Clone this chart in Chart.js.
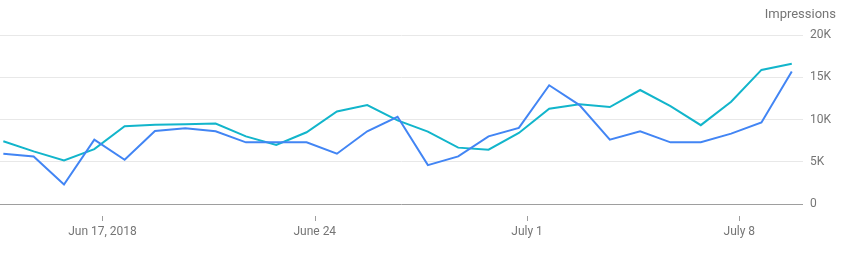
<!DOCTYPE html>
<html>
<head>
<meta charset="utf-8">
<script src="https://cdn.jsdelivr.net/npm/chart.js@4/dist/chart.umd.min.js"></script>
<style>
  html, body { margin: 0; padding: 0; background: #fff; }
  #wrap { width: 853px; height: 265px; position: relative; }
</style>
</head>
<body>
<div id="wrap"><canvas id="c"></canvas></div>
<script>
// Daily dates, Jun 14 – Jul 10, 2018
const categories = ['Jun 14','Jun 15','Jun 16','Jun 17','Jun 18','Jun 19','Jun 20','Jun 21','Jun 22','Jun 23',
  'Jun 24','Jun 25','Jun 26','Jun 27','Jun 28','Jun 29','Jun 30','Jul 1','Jul 2','Jul 3',
  'Jul 4','Jul 5','Jul 6','Jul 7','Jul 8','Jul 9','Jul 10'];
const blueSeries = [5950, 5630, 2300, 7620, 5240, 8650, 8970, 8610, 7300, 7300,
  7300, 5950, 8610, 10320, 4600, 5630, 8000, 9000, 14050, 11700,
  7620, 8610, 7300, 7300, 8330, 9640, 15680];
const cyanSeries = [7420, 6230, 5150, 6500, 9200, 9370, 9440, 9520, 8000, 6980,
  8490, 10950, 11700, 9900, 8570, 6670, 6430, 8410, 11270, 11800,
  11470, 13490, 11590, 9330, 12100, 15870, 16590];
const xTickIndex = [3, 10, 17, 24];
const xTickLabels = ['Jun 17, 2018', 'June 24', 'July 1', 'July 8'];
const yTicks = [0, 5000, 10000, 15000, 20000];
const yAxisTitle = 'Impressions';

const TICK_SHIFT = 0.27; // ticks sit at local midnight, points at UTC day start
const FONT = 'Roboto, "Noto Sans", sans-serif';
const GREY = '#757575';

const toPoints = arr => arr.map((v, i) => ({ x: i, y: v }));

const extras = {
  id: 'extras',
  afterDraw(chart) {
    const ctx = chart.ctx;
    const xs = chart.scales.x;
    const ys = chart.scales.y;
    ctx.save();
    // tick marks below axis
    ctx.strokeStyle = '#9e9e9e';
    ctx.lineWidth = 1;
    xs.ticks.forEach(t => {
      const px = Math.round(xs.getPixelForValue(t.value)) + 0.5;
      ctx.beginPath();
      ctx.moveTo(px, ys.bottom + 12);
      ctx.lineTo(px, ys.bottom + 17);
      ctx.stroke();
    });
    // axis title
    ctx.fillStyle = GREY;
    ctx.font = '13px ' + FONT;
    ctx.textAlign = 'right';
    ctx.textBaseline = 'middle';
    ctx.fillText(yAxisTitle, chart.width - 17, 15);
    ctx.restore();
  }
};

new Chart(document.getElementById('c'), {
  type: 'line',
  data: {
    labels: categories,
    datasets: [
      { label: 'Impressions A', data: toPoints(blueSeries), borderColor: '#4285F4',
        borderWidth: 2, pointRadius: 0, tension: 0, fill: false, order: 1 },
      { label: 'Impressions B', data: toPoints(cyanSeries), borderColor: '#12B5CB',
        borderWidth: 2, pointRadius: 0, tension: 0, fill: false, order: 2 }
    ]
  },
  options: {
    responsive: true,
    maintainAspectRatio: false,
    animation: false,
    layout: { padding: { top: 35, left: 0, right: 0, bottom: 0 } },
    plugins: { legend: { display: false }, tooltip: { enabled: false } },
    scales: {
      x: {
        type: 'linear',
        min: -0.11,
        max: 26.37,
        afterBuildTicks(scale) {
          scale.ticks = xTickIndex.map(v => ({ value: v + TICK_SHIFT }));
        },
        afterFit(scale) { scale.height = 61; },
        ticks: {
          autoSkip: false,
          maxRotation: 0,
          padding: 21,
          color: GREY,
          font: { family: FONT, size: 12 },
          callback(value, index) { return xTickLabels[index]; }
        },
        grid: { display: false, drawTicks: false },
        border: { display: false }
      },
      y: {
        position: 'right',
        min: 0,
        max: 20000,
        afterBuildTicks(scale) {
          scale.ticks = yTicks.map(v => ({ value: v }));
        },
        afterFit(scale) { scale.width = 50; },
        ticks: {
          padding: 7,
          color: GREY,
          font: { family: FONT, size: 12 },
          callback(v) { return v === 0 ? '0' : (v / 1000) + 'K'; }
        },
        grid: {
          drawTicks: false,
          color: ctx => ctx.tick && ctx.tick.value === 0 ? '#9e9e9e' : '#e8e8e8',
          lineWidth: 1
        },
        border: { display: false }
      }
    }
  },
  plugins: [extras]
});
</script>
</body>
</html>
